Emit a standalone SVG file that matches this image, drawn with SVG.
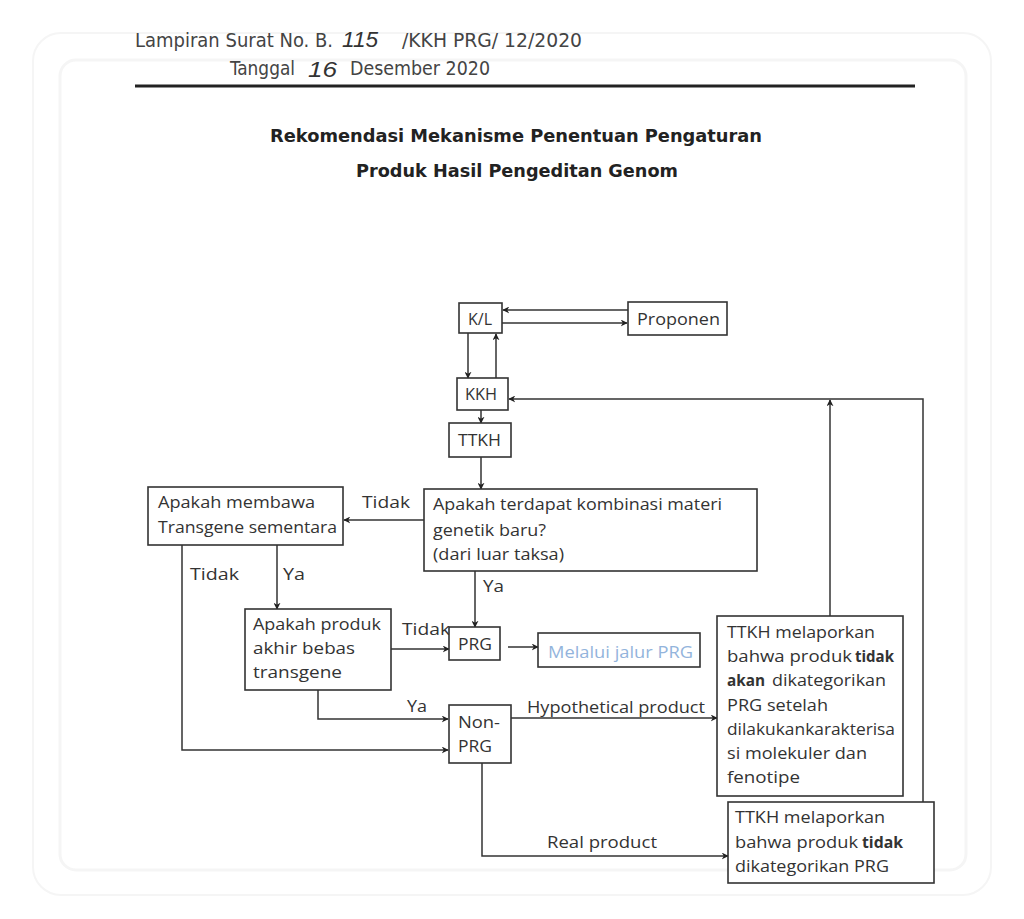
<svg xmlns="http://www.w3.org/2000/svg" width="1024" height="919" viewBox="0 0 1024 919">
<defs>
<marker id="ah" viewBox="0 0 10 10" refX="9" refY="5" markerWidth="7" markerHeight="7" markerUnits="userSpaceOnUse" orient="auto">
<path d="M0,0 L10,5 L0,10 L3,5 Z" fill="#222"/>
</marker>
<style>
.box{fill:#fff;stroke:#333;stroke-width:1.6}
.ln{fill:none;stroke:#333;stroke-width:1.5;marker-end:url(#ah)}
.pl{fill:none;stroke:#333;stroke-width:1.5}
.t{font-family:"Open Sans","Noto Sans",sans-serif;font-size:16px;fill:#333}
.b{font-weight:bold}
.hd{font-family:"DejaVu Sans Condensed","DejaVu Sans",sans-serif;font-size:19px;fill:#444}
.hw{font-family:"Liberation Sans",sans-serif;font-style:italic;font-size:22px;fill:#333}
.ti{font-family:"DejaVu Sans",sans-serif;font-weight:bold;font-size:18px;fill:#222}
</style>
</defs>
<rect width="1024" height="919" fill="#fff"/>
<rect x="33" y="33" width="958" height="862" rx="28" fill="none" stroke="#f5f5f5" stroke-width="2"/>
<rect x="60" y="60" width="906" height="810" rx="16" fill="none" stroke="#f5f5f5" stroke-width="3"/>

<g id="header">
<text class="hd" x="135" y="47" textLength="198" lengthAdjust="spacingAndGlyphs">Lampiran Surat No. B.</text>
<text class="hw" x="342" y="47" textLength="36" lengthAdjust="spacingAndGlyphs">115</text>
<text class="hd" x="402" y="47" textLength="180" lengthAdjust="spacingAndGlyphs">/KKH PRG/ 12/2020</text>
<text class="hd" x="230" y="75" textLength="65" lengthAdjust="spacingAndGlyphs">Tanggal</text>
<text class="hw" x="308" y="77" textLength="29" lengthAdjust="spacingAndGlyphs">16</text>
<text class="hd" x="350" y="75" textLength="140" lengthAdjust="spacingAndGlyphs">Desember 2020</text>
<line x1="135" y1="86" x2="915" y2="86" stroke="#222" stroke-width="3"/>
</g>

<g id="title">
<text class="ti" x="270" y="142" textLength="492" lengthAdjust="spacingAndGlyphs">Rekomendasi Mekanisme Penentuan Pengaturan</text>
<text class="ti" x="356" y="177" textLength="322" lengthAdjust="spacingAndGlyphs">Produk Hasil Pengeditan Genom</text>
</g>

<g id="connectors">
<line class="ln" x1="628" y1="310" x2="503" y2="310"/>
<line class="ln" x1="502" y1="323" x2="627" y2="323"/>
<line class="ln" x1="468" y1="333" x2="468" y2="378"/>
<line class="ln" x1="496" y1="378" x2="496" y2="334"/>
<line class="ln" x1="481" y1="410" x2="481" y2="423"/>
<line class="ln" x1="481" y1="457" x2="481" y2="489"/>
<line class="ln" x1="424" y1="520" x2="344" y2="520"/>
<polyline class="ln" points="182,545 182,750 448,750"/>
<line class="ln" x1="277" y1="545" x2="277" y2="609"/>
<line class="ln" x1="475" y1="571" x2="475" y2="627"/>
<line class="ln" x1="391" y1="649" x2="449" y2="649"/>
<polyline class="ln" points="318,690 318,719 448,719"/>
<line class="ln" x1="508" y1="647" x2="538" y2="647"/>
<line class="ln" x1="511" y1="718" x2="717" y2="718"/>
<polyline class="ln" points="482,763 482,856 728,856"/>
<line class="ln" x1="830" y1="616" x2="830" y2="400"/>
<polyline class="ln" points="923,802 923,399 509,399"/>
<text class="t" x="362" y="508" textLength="48" lengthAdjust="spacingAndGlyphs">Tidak</text>
<text class="t" x="190" y="580" textLength="49" lengthAdjust="spacingAndGlyphs">Tidak</text>
<text class="t" x="283" y="580" textLength="22" lengthAdjust="spacingAndGlyphs">Ya</text>
<text class="t" x="483" y="592" textLength="21" lengthAdjust="spacingAndGlyphs">Ya</text>
<text class="t" x="402" y="635" textLength="48" lengthAdjust="spacingAndGlyphs">Tidak</text>
<text class="t" x="407" y="712" textLength="20" lengthAdjust="spacingAndGlyphs">Ya</text>
<text class="t" x="527" y="713" textLength="178" lengthAdjust="spacingAndGlyphs">Hypothetical product</text>
<text class="t" x="547" y="848" textLength="110" lengthAdjust="spacingAndGlyphs">Real product</text>
</g>

<g id="kl">
<rect class="box" x="459" y="303" width="43" height="30"/>
<text class="t" x="468" y="325" textLength="24" lengthAdjust="spacingAndGlyphs">K/L</text>
</g>
<g id="proponen">
<rect class="box" x="628" y="302" width="99" height="33"/>
<text class="t" x="637" y="325" textLength="83" lengthAdjust="spacingAndGlyphs">Proponen</text>
</g>
<g id="kkh">
<rect class="box" x="457" y="378" width="51" height="32"/>
<text class="t" x="465" y="400" textLength="32" lengthAdjust="spacingAndGlyphs">KKH</text>
</g>
<g id="ttkh">
<rect class="box" x="449" y="423" width="62" height="34"/>
<text class="t" x="458" y="446" textLength="43" lengthAdjust="spacingAndGlyphs">TTKH</text>
</g>
<g id="q-materi">
<rect class="box" x="424" y="489" width="333" height="82"/>
<text class="t" x="433" y="510" textLength="289" lengthAdjust="spacingAndGlyphs">Apakah terdapat kombinasi materi</text>
<text class="t" x="433" y="536" textLength="113" lengthAdjust="spacingAndGlyphs">genetik baru?</text>
<text class="t" x="433" y="560" textLength="131" lengthAdjust="spacingAndGlyphs">(dari luar taksa)</text>
</g>
<g id="q-transgene">
<rect class="box" x="148" y="487" width="195" height="58"/>
<text class="t" x="158" y="508" textLength="157" lengthAdjust="spacingAndGlyphs">Apakah membawa</text>
<text class="t" x="158" y="533" textLength="179" lengthAdjust="spacingAndGlyphs">Transgene sementara</text>
</g>
<g id="q-bebas">
<rect class="box" x="245" y="609" width="146" height="81"/>
<text class="t" x="253" y="630" textLength="128" lengthAdjust="spacingAndGlyphs">Apakah produk</text>
<text class="t" x="253" y="654" textLength="102" lengthAdjust="spacingAndGlyphs">akhir bebas</text>
<text class="t" x="253" y="678" textLength="89" lengthAdjust="spacingAndGlyphs">transgene</text>
</g>
<g id="prg">
<rect class="box" x="449" y="627" width="51" height="33"/>
<text class="t" x="458" y="650" textLength="34" lengthAdjust="spacingAndGlyphs">PRG</text>
</g>
<g id="jalur-prg">
<rect class="box" x="538" y="633" width="162" height="34"/>
<text class="t" x="548" y="658" textLength="145" lengthAdjust="spacingAndGlyphs" style="fill:#93b4dc">Melalui jalur PRG</text>
</g>
<g id="non-prg">
<rect class="box" x="449" y="705" width="62" height="58"/>
<text class="t" x="458" y="728" textLength="42" lengthAdjust="spacingAndGlyphs">Non-</text>
<text class="t" x="458" y="752" textLength="34" lengthAdjust="spacingAndGlyphs">PRG</text>
</g>
<g id="lapor-hypo">
<rect class="box" x="717" y="616" width="186" height="180"/>
<text class="t" x="727" y="638" textLength="148" lengthAdjust="spacingAndGlyphs">TTKH melaporkan</text>
<text class="t" x="727" y="662" textLength="125" lengthAdjust="spacingAndGlyphs">bahwa produk</text>
<text class="t b" x="855" y="662" textLength="39" lengthAdjust="spacingAndGlyphs">tidak</text>
<text class="t b" x="727" y="686" textLength="38" lengthAdjust="spacingAndGlyphs">akan</text>
<text class="t" x="772" y="686" textLength="114" lengthAdjust="spacingAndGlyphs">dikategorikan</text>
<text class="t" x="727" y="711" textLength="101" lengthAdjust="spacingAndGlyphs">PRG setelah</text>
<text class="t" x="727" y="735" textLength="168" lengthAdjust="spacingAndGlyphs">dilakukankarakterisa</text>
<text class="t" x="727" y="759" textLength="140" lengthAdjust="spacingAndGlyphs">si molekuler dan</text>
<text class="t" x="727" y="783" textLength="73" lengthAdjust="spacingAndGlyphs">fenotipe</text>
</g>
<g id="lapor-real">
<rect class="box" x="728" y="802" width="206" height="81"/>
<text class="t" x="735" y="823" textLength="150" lengthAdjust="spacingAndGlyphs">TTKH melaporkan</text>
<text class="t" x="735" y="848" textLength="123" lengthAdjust="spacingAndGlyphs">bahwa produk</text>
<text class="t b" x="862" y="848" textLength="41" lengthAdjust="spacingAndGlyphs">tidak</text>
<text class="t" x="735" y="872" textLength="154" lengthAdjust="spacingAndGlyphs">dikategorikan PRG</text>
</g>
</svg>
